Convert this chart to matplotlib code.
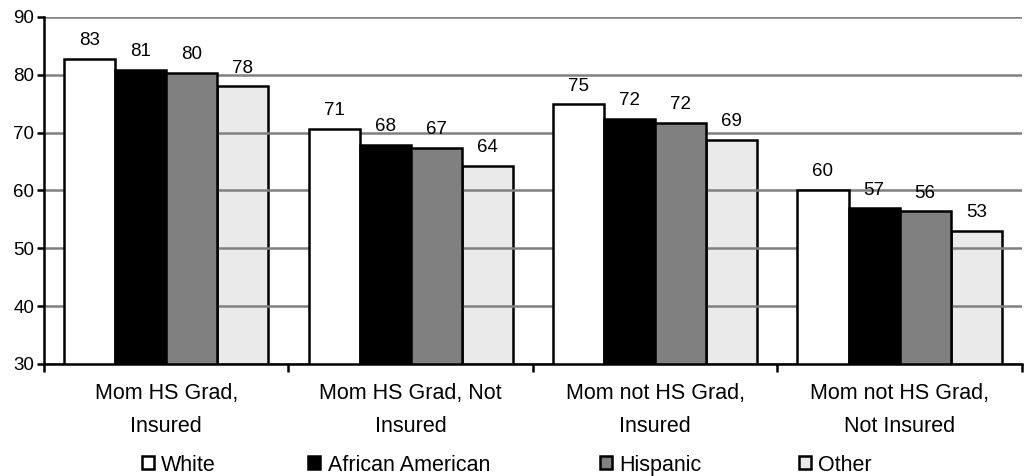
import matplotlib.pyplot as plt
from matplotlib.patches import Patch
import numpy as np

plt.rcParams['font.family'] = ['Liberation Sans', 'DejaVu Sans']

categories = ['Mom HS Grad,\nInsured', 'Mom HS Grad, Not\nInsured',
              'Mom not HS Grad,\nInsured', 'Mom not HS Grad,\nNot Insured']
series = ['White', 'African American', 'Hispanic', 'Other']
white = [82.7, 70.6, 74.9, 60.1]
african_american = [80.9, 67.9, 72.4, 56.9]
hispanic = [80.4, 67.4, 71.7, 56.4]
other = [78.0, 64.2, 68.8, 53.0]

colors = ['white', 'black', '#808080', (0.82, 0.82, 0.82, 0.45)]

fig = plt.figure(figsize=(10.28, 4.76), dpi=100)
ax = fig.add_axes([0.0428, 0.2353, 0.9512, 0.729])

x = np.arange(len(categories))
width = 0.209
for i, (name, vals) in enumerate(zip(series, [white, african_american, hispanic, other])):
    bars = ax.bar(x + (i - 1.5) * width, vals, width, bottom=0, label=name,
                  color=colors[i], edgecolor='black', linewidth=1.8, zorder=3 if i < 3 else 1)
    ax.bar_label(bars, labels=[f"{v:.0f}" for v in vals], padding=7, fontsize=13.5)

ax.set_ylim(30, 90)
ax.set_xlim(-0.5, 3.5)
ax.set_yticks(range(30, 91, 10))
ax.yaxis.grid(True, color='#808080', linewidth=1.8, zorder=2)
ax.set_axisbelow(False)

ax.set_xticks(x)
ax.set_xticklabels(categories, fontsize=15.5, linespacing=1.7)
ax.tick_params(axis='x', length=0, pad=14)
ax.set_xticks(np.arange(-0.5, 4, 1), minor=True)
ax.tick_params(axis='x', which='minor', length=6, width=1.8, direction='out')
ax.tick_params(axis='y', labelsize=13.5, length=5, width=1.8, direction='out', pad=2)

for s in ['top', 'right']:
    ax.spines[s].set_visible(False)
for s in ['left', 'bottom']:
    ax.spines[s].set_linewidth(1.8)
    ax.spines[s].set_zorder(4)

# legend entries spaced like the original
legend_x = [0.138, 0.300, 0.584, 0.777]
for name, c, lx in zip(series, colors, legend_x):
    h = Patch(facecolor=c, edgecolor='black', linewidth=1.8)
    fig.legend([h], [name], loc='center left', bbox_to_anchor=(lx, 0.023),
               frameon=False, fontsize=15.5, handlelength=0.55, handleheight=0.55,
               handletextpad=0.35, borderpad=0, borderaxespad=0)

plt.savefig('out.png', dpi=100)
